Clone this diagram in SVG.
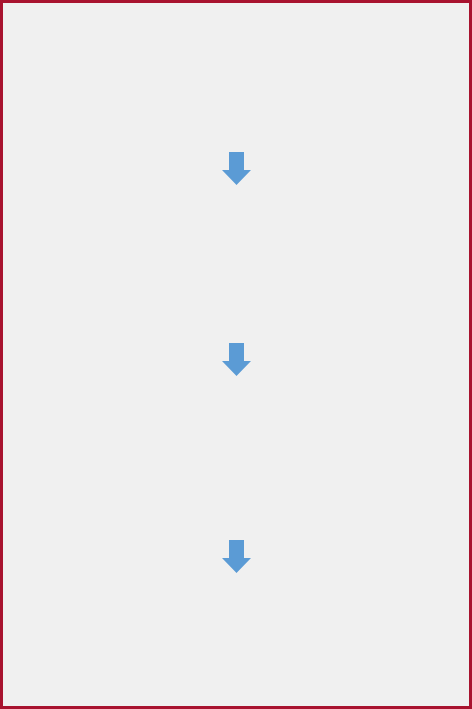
<svg xmlns="http://www.w3.org/2000/svg" width="472" height="709" viewBox="0 0 472 709">
<style>
.arrow{fill:#5B9BD5;}
</style>
<defs>
<path id="darrow" d="M-7.5,0 H7.5 V18 H14.5 L0,33 L-14.5,18 H-7.5 Z"/>
</defs>
<rect x="1.5" y="1.5" width="469" height="706" fill="#F0F0F0" stroke="#A8132F" stroke-width="3"/>
<g id="connectors">
<g id="arrow1"><use href="#darrow" class="arrow" x="236.5" y="152"/></g>
<g id="arrow2"><use href="#darrow" class="arrow" x="236.5" y="343"/></g>
<g id="arrow3"><use href="#darrow" class="arrow" x="236.5" y="540"/></g>
</g>
</svg>
